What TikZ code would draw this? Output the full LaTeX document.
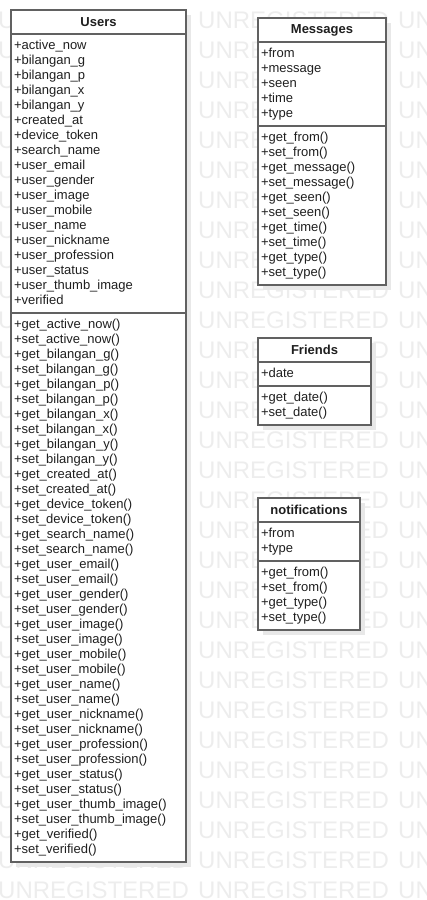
\documentclass[tikz,border=0pt]{standalone}
\usepackage{fontspec}
\setmainfont{Liberation Sans}
\usetikzlibrary{positioning,shadows}
\tikzstyle{classhead}=[draw=black!62,line width=1.4pt,fill=white,outer sep=0pt,inner sep=0pt,minimum height=24pt,text=black!88,font=\fontsize{13}{15}\selectfont\bfseries,drop shadow={fill=black!9,opacity=1,shadow xshift=5pt,shadow yshift=-5pt}]
\tikzstyle{members}=[draw=black!62,line width=1.4pt,fill=white,outer sep=0pt,inner xsep=3pt,inner ysep=4.5pt,align=left,text=black!88,font=\fontsize{13}{15}\selectfont,execute at begin node=\strut,execute at end node=\strut,drop shadow={fill=black!9,opacity=1,shadow xshift=5pt,shadow yshift=-5pt}]
\tikzstyle{watermark}=[anchor=west,inner sep=0pt,text=black!7,font=\fontsize{24}{24}\selectfont]

\begin{document}
\begin{tikzpicture}[x=1pt,y=-1pt]
    \useasboundingbox (0,0) rectangle (426,900);
    % Watermark rows behind the classes
    \begin{scope}
    \clip (0,0) rectangle (426,900);
    \foreach \y in {20,50,...,890}
        \foreach \x in {-2,198,398}
            \node[watermark] (wm-\x-\y) at (\x,\y) {UNREGISTERED};
    \end{scope}
    % Users class
    \node[classhead,minimum width=175pt,anchor=north west] (users) at (11,10) {Users};
    \node[members,text width=169pt,below=0pt of users] (users-attr) {+active\_now\\ +bilangan\_g\\ +bilangan\_p\\ +bilangan\_x\\ +bilangan\_y\\ +created\_at\\ +device\_token\\ +search\_name\\ +user\_email\\ +user\_gender\\ +user\_image\\ +user\_mobile\\ +user\_name\\ +user\_nickname\\ +user\_profession\\ +user\_status\\ +user\_thumb\_image\\ +verified};
    \node[members,text width=169pt,below=0pt of users-attr] (users-ops) {+get\_active\_now()\\ +set\_active\_now()\\ +get\_bilangan\_g()\\ +set\_bilangan\_g()\\ +get\_bilangan\_p()\\ +set\_bilangan\_p()\\ +get\_bilangan\_x()\\ +set\_bilangan\_x()\\ +get\_bilangan\_y()\\ +set\_bilangan\_y()\\ +get\_created\_at()\\ +set\_created\_at()\\ +get\_device\_token()\\ +set\_device\_token()\\ +get\_search\_name()\\ +set\_search\_name()\\ +get\_user\_email()\\ +set\_user\_email()\\ +get\_user\_gender()\\ +set\_user\_gender()\\ +get\_user\_image()\\ +set\_user\_image()\\ +get\_user\_mobile()\\ +set\_user\_mobile()\\ +get\_user\_name()\\ +set\_user\_name()\\ +get\_user\_nickname()\\ +set\_user\_nickname()\\ +get\_user\_profession()\\ +set\_user\_profession()\\ +get\_user\_status()\\ +set\_user\_status()\\ +get\_user\_thumb\_image()\\ +set\_user\_thumb\_image()\\ +get\_verified()\\ +set\_verified()};
    % Messages class
    \node[classhead,minimum width=128pt,anchor=north west] (messages) at (258,18) {Messages};
    \node[members,text width=122pt,below=0pt of messages] (messages-attr) {+from\\ +message\\ +seen\\ +time\\ +type};
    \node[members,text width=122pt,below=0pt of messages-attr] (messages-ops) {+get\_from()\\ +set\_from()\\ +get\_message()\\ +set\_message()\\ +get\_seen()\\ +set\_seen()\\ +get\_time()\\ +set\_time()\\ +get\_type()\\ +set\_type()};
    % Friends class
    \node[classhead,minimum width=113pt,anchor=north west] (friends) at (258,338) {Friends};
    \node[members,text width=107pt,below=0pt of friends] (friends-attr) {+date};
    \node[members,text width=107pt,below=0pt of friends-attr] (friends-ops) {+get\_date()\\ +set\_date()};
    % notifications class
    \node[classhead,minimum width=102pt,anchor=north west] (notifications) at (258,498) {notifications};
    \node[members,text width=96pt,below=0pt of notifications] (notifications-attr) {+from\\ +type};
    \node[members,text width=96pt,below=0pt of notifications-attr] (notifications-ops) {+get\_from()\\ +set\_from()\\ +get\_type()\\ +set\_type()};
\end{tikzpicture}
\end{document}
